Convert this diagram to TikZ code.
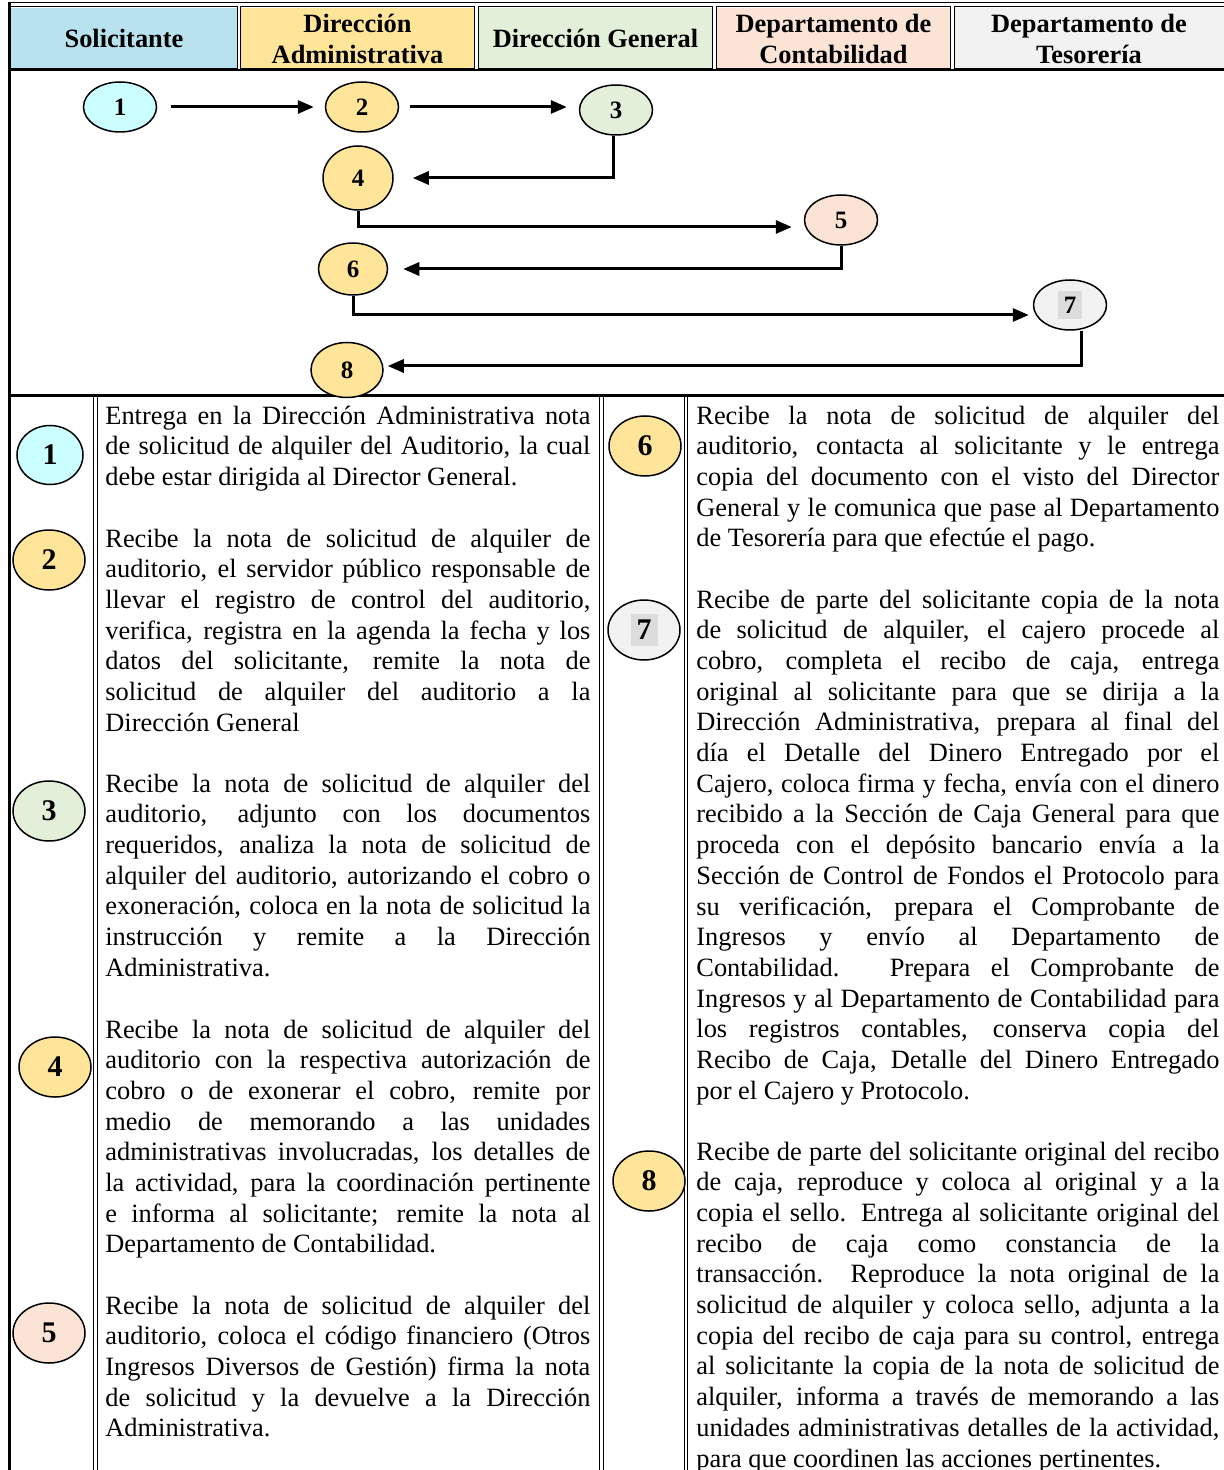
\documentclass[tikz,border=0pt]{standalone}
\usepackage{fontspec}
\setmainfont{Liberation Serif}
\usetikzlibrary{shapes.geometric, arrows.meta}
\usepackage{xcolor}
\definecolor{csol}{HTML}{B9E2EF}
\definecolor{cadm}{HTML}{FFE599}
\definecolor{cgen}{HTML}{E2EFD9}
\definecolor{ccon}{HTML}{FBE4D5}
\definecolor{ctes}{HTML}{F2F2F2}
\definecolor{ccyan}{HTML}{CCFFFF}
\definecolor{cmark}{HTML}{DCDCDC}
\newcommand{\graymark}[1]{{\setlength{\fboxsep}{3pt}\colorbox{cmark}{#1}}}

\begin{document}
\begin{tikzpicture}[x=0.5pt, y=-0.5pt, >={Triangle[length=8pt, width=6.5pt]},
	lane/.style={inner sep=0pt, minimum height=30.5pt, align=center, font=\fontsize{13.2}{15.5}\selectfont\bfseries},
	stepo/.style={ellipse, draw=black, line width=0.75pt, inner sep=0pt, minimum width=36.5pt, minimum height=25pt, font=\fontsize{12.5}{13}\selectfont\bfseries},
	stepi/.style={ellipse, draw=black, line width=0.75pt, inner sep=0pt, minimum width=36pt, minimum height=30pt, font=\fontsize{15}{16}\selectfont\bfseries},
	flow/.style={line width=1.5pt, ->},
	desc/.style={anchor=base west, inner sep=0pt, align=justify, font=\fontsize{13.2}{15.35}\selectfont},
	dbl/.style={double, double distance=1.2pt, line width=0.45pt},
	heavy/.style={line width=1.5pt}]
		\useasboundingbox (0,0) rectangle (1224,1470);
		\def\wleft{242.5pt}
		\def\wright{261.5pt}

		% Header
		\node[lane, fill=csol, minimum width=114pt] (hsol) at (124,38.5) {Solicitante};
		\node[lane, fill=cadm, minimum width=117.5pt] (hadm) at (357.5,38.5) {Dirección\\Administrativa};
		\node[lane, fill=cgen, minimum width=117.5pt] (hgen) at (595.5,38.5) {Dirección General};
		\node[lane, fill=ccon, minimum width=117.5pt] (hcon) at (833.5,38.5) {Departamento de\\Contabilidad};
		\node[lane, fill=ctes, minimum width=135pt] (htes) at (1089,38.5) {Departamento de\\Tesorería};

		% Grid
		\draw[dbl] (9,4.5) -- (1224,4.5);
		\draw[heavy] (9,2) -- (9,1470);
		\draw[heavy] (9,70) -- (1224,70);
		\draw[heavy] (9,396) -- (1224,396);
		\foreach \gx in {239,476.5,714.5,952.5}
			\draw[dbl] (\gx,6) -- (\gx,69);
		\foreach \gx in {95.5,601.5,686}
			\draw[dbl] (\gx,397) -- (\gx,1470);

		% Flow
		\node[stepo, fill=ccyan] (f1) at (120,107) {1};
		\node[stepo, fill=cadm] (f2) at (362,107) {2};
		\node[stepo, fill=cgen] (f3) at (616,110) {3};
		\node[stepo, fill=cadm, minimum width=35pt, minimum height=32pt] (f4) at (358,178) {4};
		\node[stepo, fill=ccon] (f5) at (841,220) {5};
		\node[stepo, fill=cadm, minimum width=34.5pt, minimum height=26pt] (f6) at (353,269) {6};
		\node[stepo, fill=ctes] (f7) at (1070,305) {\graymark{7}};
		\node[stepo, fill=cadm, minimum width=36pt, minimum height=27.5pt] (f8) at (347,370) {8};

		% Arrows
		\draw[flow, shorten <=7pt, shorten >=5.5pt] (f1.east) -- (f1.east -| f2.west);
		\draw[flow, shorten <=5.5pt, shorten >=6pt] (f2.east) -- (f2.east -| f3.west);
		\draw[flow, shorten >=9.5pt] ([xshift=-1.5pt]f3.south) |- (f4.east);
		\draw[flow, shorten >=6pt] (f4.south) |- ([yshift=-3.5pt]f5.west);
		\draw[flow, shorten >=7.5pt] (f5.south) |- (f6.east);
		\draw[flow, shorten >=2pt] (f6.south) |- ([yshift=-5pt]f7.west);
		\draw[flow, shorten >=2pt] ([xshift=5.5pt]f7.south) |- ([yshift=2pt]f8.east);

		% Steps
		\node[stepi, fill=ccyan, minimum width=33pt, minimum height=29.5pt] (s1) at (50,455) {1};
		\node[stepi, fill=cadm] (s2) at (49,560) {2};
		\node[stepi, fill=cgen] (s3) at (49,811) {3};
		\node[stepi, fill=cadm] (s4) at (55,1067) {4};
		\node[stepi, fill=ccon] (s5) at (49,1333) {5};
		\node[stepi, fill=cadm] (s6) at (645,446) {6};
		\node[stepi, fill=ctes] (s7) at (644,630) {\graymark{7}};
		\node[stepi, fill=cadm] (s8) at (649,1181) {8};

		% Descriptions
		\node[desc, text width=\wleft] (d1) at (105,424)
			{Entrega  en la Dirección Administrativa  nota\linebreak de solicitud de alquiler del Auditorio, la cual\linebreak debe estar dirigida al Director General.};
		\node[desc, text width=\wleft] (d2) at (105,547)
			{Recibe la nota de solicitud de alquiler de\linebreak auditorio, el servidor público responsable de\linebreak llevar el registro de control  del auditorio,\linebreak verifica, registra en la agenda la fecha y los\linebreak datos del solicitante, remite la nota de\linebreak solicitud de alquiler del auditorio a la\linebreak Dirección General};
		\node[desc, text width=\wleft] (d3) at (105,792)
			{Recibe la nota de solicitud de alquiler del\linebreak auditorio, adjunto con los documentos\linebreak requeridos, analiza la nota de solicitud de\linebreak alquiler del auditorio, autorizando el cobro o\linebreak exoneración, coloca en la nota de solicitud la\linebreak instrucción y remite a la Dirección\linebreak Administrativa.};
		\node[desc, text width=\wleft] (d4) at (105,1038)
			{Recibe la nota de solicitud de alquiler del\linebreak auditorio con la respectiva autorización de\linebreak cobro o de exonerar el cobro, remite por\linebreak medio de memorando a las unidades\linebreak administrativas involucradas,  los detalles de\linebreak la actividad, para la coordinación pertinente\linebreak e informa al solicitante; remite la nota al\linebreak Departamento de Contabilidad.};
		\node[desc, text width=\wleft] (d5) at (105,1314)
			{Recibe la nota de solicitud de alquiler del\linebreak auditorio,  coloca el código financiero (Otros\linebreak Ingresos  Diversos de Gestión) firma la nota\linebreak de solicitud y la devuelve a la Dirección\linebreak Administrativa.};
		\node[desc, text width=\wright] (d6) at (696,424)
			{Recibe la nota de solicitud de alquiler del\linebreak auditorio, contacta al solicitante y le entrega\linebreak copia del documento con el visto del Director\linebreak General y le comunica que pase al Departamento\linebreak de Tesorería para que efectúe el pago.};
		\node[desc, text width=\wright] (d7) at (696,608)
			{Recibe de parte del solicitante copia de la nota\linebreak de solicitud de alquiler, el cajero procede al\linebreak cobro, completa el recibo de caja, entrega\linebreak original al solicitante para que se dirija a la\linebreak Dirección Administrativa, prepara al final del\linebreak día el Detalle del Dinero Entregado por el\linebreak Cajero, coloca firma y fecha, envía con el dinero\linebreak recibido a la Sección de Caja General para que\linebreak proceda con el depósito  bancario envía a la\linebreak Sección de Control de Fondos el Protocolo para\linebreak su verificación, prepara el Comprobante de\linebreak Ingresos y envío al Departamento de\linebreak Contabilidad.  Prepara el Comprobante de\linebreak Ingresos y al Departamento de Contabilidad para\linebreak los registros contables, conserva copia del\linebreak Recibo de Caja, Detalle del Dinero Entregado\linebreak por el Cajero y Protocolo.};
		\node[desc, text width=\wright] (d8) at (696,1160)
			{Recibe de parte del solicitante original del recibo\linebreak de caja, reproduce y coloca al original y a la\linebreak copia el sello.  Entrega al solicitante original del\linebreak recibo de caja como constancia de la\linebreak transacción.  Reproduce la nota original de la\linebreak solicitud de alquiler y coloca sello, adjunta a la\linebreak copia del recibo de caja para su control, entrega\linebreak al solicitante la copia de la nota de solicitud de\linebreak alquiler, informa a través de memorando a las\linebreak unidades administrativas detalles de la actividad,\linebreak para que coordinen las acciones pertinentes.};
	\end{tikzpicture}
\end{document}
